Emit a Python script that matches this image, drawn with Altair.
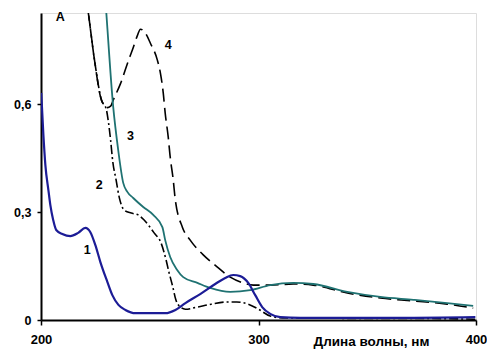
import altair as alt
import pandas as pd

# Curve 1 (blue)
c1_x = [200.1, 201.1, 202.0, 203.4, 204.3, 205.6, 207.0, 209.8, 213.5, 217.1, 220.4, 222.7, 225.0,
        227.3, 230.5, 232.8, 235.6, 238.8, 243.4, 250.3, 257.2, 261.8, 266.4, 273.2, 280.1, 284.7,
        288.4, 291.6, 295.3, 298.5, 301.7, 305.4, 310.0, 319.2, 342.0, 365.0, 399.7]
c1_y = [0.631, 0.514, 0.431, 0.361, 0.319, 0.278, 0.250, 0.239, 0.233, 0.242, 0.256, 0.244, 0.208,
        0.161, 0.106, 0.069, 0.042, 0.028, 0.019, 0.019, 0.019, 0.028, 0.047, 0.072, 0.100, 0.117,
        0.125, 0.122, 0.103, 0.069, 0.036, 0.017, 0.008, 0.006, 0.006, 0.006, 0.008]

# Curve 2 (dash-dot)
c2_x = [219.4, 221.7, 224.6, 227.8, 230.0, 231.0, 232.0, 233.0, 234.5, 236.0, 238.3, 241.5, 244.7,
        247.4, 252.0, 255.2, 257.5, 258.9, 260.6, 262.0, 263.4, 266.4, 271.9, 278.3, 285.2, 290.0,
        295.3, 300.0, 305.4, 311.0, 330.0, 360.0, 380.0, 400.0]
c2_y = [0.95, 0.856, 0.722, 0.611, 0.586, 0.55, 0.50, 0.44, 0.39, 0.34, 0.305, 0.297, 0.292,
        0.278, 0.242, 0.214, 0.167, 0.131, 0.092, 0.056, 0.040, 0.030, 0.036, 0.044, 0.050, 0.050,
        0.044, 0.030, 0.011, 0.006, 0.005, 0.004, 0.004, 0.002]

# Curve 3 (solid teal)
c3_x = [228.9, 230.0, 233.2, 235.5, 237.8, 239.7, 242.4, 247.0, 251.6, 255.8, 257.1, 259.4, 262.6,
        265.4, 271.9, 277.8, 287.0, 296.2, 305.4, 316.0, 325.2, 340.8, 356.0, 371.2, 386.8, 398.7]
c3_y = [0.95, 0.856, 0.592, 0.472, 0.381, 0.356, 0.339, 0.314, 0.292, 0.258, 0.222, 0.175, 0.139,
        0.119, 0.103, 0.089, 0.078, 0.083, 0.097, 0.103, 0.100, 0.078, 0.064, 0.056, 0.047, 0.039]

# Curve 4 (long dash)
c4_x = [219.4, 221.7, 224.6, 227.8, 230.5, 232.0, 233.2, 236.5, 240.1, 242.0, 244.3, 245.7, 248.0,
        250.3, 253.5, 254.9, 256.2, 257.1, 258.5, 259.4, 260.8, 261.7, 265.0, 268.6, 274.6, 281.1,
        287.0, 293.0, 297.6, 305.4, 316.0, 325.2, 340.8, 356.0, 371.2, 386.8, 398.7]
c4_y = [0.95, 0.856, 0.722, 0.611, 0.590, 0.594, 0.611, 0.656, 0.719, 0.750, 0.790, 0.808, 0.797,
        0.769, 0.722, 0.686, 0.631, 0.575, 0.508, 0.453, 0.389, 0.336, 0.258, 0.222, 0.181, 0.147,
        0.119, 0.103, 0.097, 0.097, 0.100, 0.097, 0.075, 0.061, 0.053, 0.044, 0.033]

# Annotations
ann_text = ["A", "1", "2", "3", "4"]
ann_x = [208.9, 221.3, 226.8, 241.1, 258.5]
ann_y = [0.842, 0.194, 0.375, 0.511, 0.764]

x_ticks = [200, 300, 400]
y_ticks = [0, 0.3, 0.6]

XD = [200, 400]
YD = [0, 0.853]
FONT = "Liberation Sans"

xs = alt.Scale(domain=XD, nice=False, zero=False)
ys = alt.Scale(domain=YD, nice=False)

x_axis = alt.Axis(
    values=x_ticks, format="d", title="Длина волны, нм", grid=False,
    domainColor="black", domainWidth=2, tickColor="black", tickSize=5, tickWidth=1.5,
    labelFont=FONT, labelFontSize=13, labelFontWeight="bold", labelColor="black",
    labelPadding=8, labelFlush=False,
    titleFont=FONT, titleFontSize=13.5, titleFontWeight="bold", titleColor="black",
    titleX=330, titleY=25, titleBaseline="alphabetic", titleAnchor="middle", titleAlign="center")
y_axis = alt.Axis(
    values=y_ticks, title=None, grid=False,
    labelExpr="datum.value == 0 ? '0' : replace(format(datum.value, '.1f'), '.', ',')",
    domainColor="black", domainWidth=2, tickColor="black", tickSize=4, tickWidth=1.5,
    labelFont=FONT, labelFontSize=12.5, labelFontWeight="bold", labelColor="black",
    labelPadding=6)

X = alt.X("x:Q", scale=xs, axis=x_axis)
Y = alt.Y("y:Q", scale=ys, axis=y_axis)


def curve(xv, yv, color, width, dash=None):
    df = pd.DataFrame({"x": xv, "y": yv, "o": list(range(len(xv)))})
    kw = dict(color=color, strokeWidth=width, clip=True, interpolate="monotone")
    if dash:
        kw["strokeDash"] = dash
    return alt.Chart(df).mark_line(**kw).encode(x=X, y=Y, order="o:Q")


ann_df = pd.DataFrame({"t": ann_text, "x": ann_x, "y": ann_y})
ann = alt.Chart(ann_df).mark_text(font=FONT, fontSize=12.5, fontWeight="bold", color="black").encode(
    x=X, y=Y, text="t:N",
)

chart = alt.layer(
    curve(c2_x, c2_y, "black", 1.6, [9, 3, 2, 3]),
    curve(c4_x, c4_y, "black", 1.6, [13, 6]),
    curve(c3_x, c3_y, "#1f7272", 1.8),
    curve(c1_x, c1_y, "#1c1c96", 2.2),
    ann,
).properties(
    width=435, height=307,
    autosize=alt.AutoSizeParams(type="none"),
    padding={"left": 41, "top": 13, "right": 11, "bottom": 30},
).configure_view(stroke=None).configure(background="white")

chart.save("out.html", embed_options={"renderer": "svg", "actions": False})
